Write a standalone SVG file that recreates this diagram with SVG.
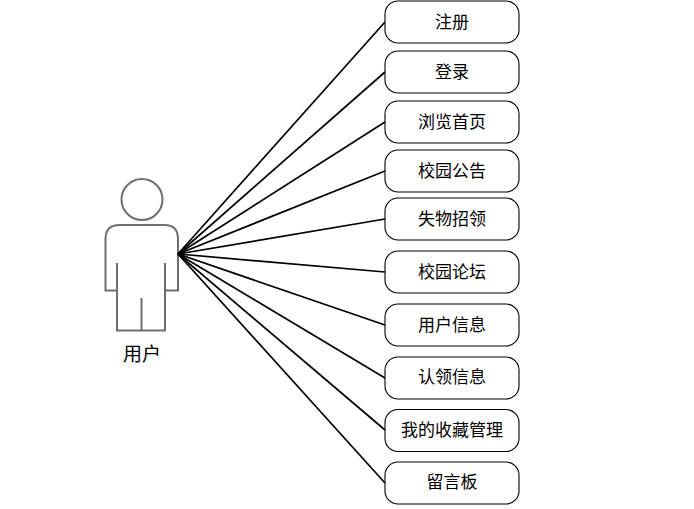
<svg xmlns="http://www.w3.org/2000/svg" width="694" height="509" viewBox="0 0 694 509">
<style>
.n{fill:#fff;stroke:#000;stroke-width:1.1}
.t{font-family:"Noto Sans CJK SC","Liberation Sans",sans-serif;font-size:17px;fill:#000;text-anchor:middle}
.c line{stroke:#000;stroke-width:1.7}
.a{fill:none;stroke:#6e6e6e;stroke-width:2}
</style>
<rect width="694" height="509" fill="#fff"/>
<g id="actor">
<circle class="a" cx="142" cy="199.500" r="20.500"/>
<path class="a" d="M117 263V290.500H105.500V239Q105.500 225 119.500 225H164.500Q178 225 178 239V290.500H165V263M117 290.500V330.500H165V290.500M141.500 298V330.500"/>
<text class="t" x="142" y="361" style="font-size:19px">用户</text>
</g>
<g id="connectors" class="c">
<line x1="178" y1="254" x2="385" y2="22"/>
<line x1="178" y1="254" x2="385" y2="72"/>
<line x1="178" y1="254" x2="385" y2="122"/>
<line x1="178" y1="254" x2="385" y2="171"/>
<line x1="178" y1="254" x2="385" y2="219"/>
<line x1="178" y1="254" x2="385" y2="272"/>
<line x1="178" y1="254" x2="385" y2="325"/>
<line x1="178" y1="254" x2="385" y2="378"/>
<line x1="178" y1="254" x2="385" y2="430"/>
<line x1="178" y1="254" x2="385" y2="483"/>
</g>
<g id="n1"><rect class="n" x="385" y="1" width="134" height="42" rx="13"/><text class="t" x="452" y="27.500">注册</text></g>
<g id="n2"><rect class="n" x="385" y="51" width="134" height="42" rx="13"/><text class="t" x="452" y="77.500">登录</text></g>
<g id="n3"><rect class="n" x="385" y="101" width="134" height="42" rx="13"/><text class="t" x="452" y="127.500">浏览首页</text></g>
<g id="n4"><rect class="n" x="385" y="150" width="134" height="42" rx="13"/><text class="t" x="452" y="176.500">校园公告</text></g>
<g id="n5"><rect class="n" x="385" y="198" width="134" height="42" rx="13"/><text class="t" x="452" y="224.500">失物招领</text></g>
<g id="n6"><rect class="n" x="385" y="251" width="134" height="42" rx="13"/><text class="t" x="452" y="277.500">校园论坛</text></g>
<g id="n7"><rect class="n" x="385" y="304" width="134" height="42" rx="13"/><text class="t" x="452" y="330.500">用户信息</text></g>
<g id="n8"><rect class="n" x="385" y="357" width="134" height="42" rx="13"/><text class="t" x="452" y="382.500">认领信息</text></g>
<g id="n9"><rect class="n" x="385" y="409.500" width="134" height="42" rx="13"/><text class="t" x="452" y="435.500">我的收藏管理</text></g>
<g id="n10"><rect class="n" x="385" y="462" width="134" height="42" rx="13"/><text class="t" x="452" y="488">留言板</text></g>
</svg>
